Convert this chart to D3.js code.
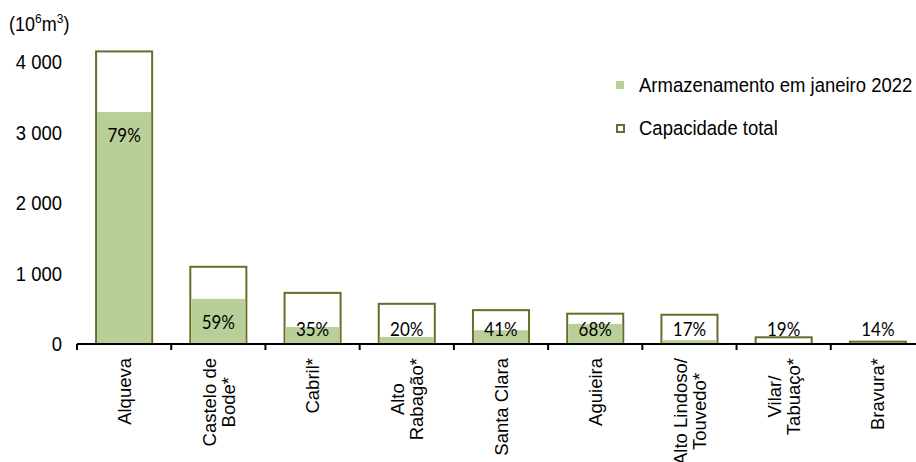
<!DOCTYPE html>
<html>
<head>
<meta charset="utf-8">
<script src="https://cdn.jsdelivr.net/npm/d3@7/dist/d3.min.js"></script>
<style>
  html, body { margin: 0; padding: 0; background: #fff; }
  svg { display: block; }
  text { font-family: "Liberation Sans", Arial, sans-serif; fill: #000; }
</style>
</head>
<body>
<svg id="chart" width="916" height="462"></svg>
<script>
const categories = ["Alqueva", "Castelo de\nBode*", "Cabril*", "Alto\nRabagão*", "Santa Clara", "Aguieira", "Alto Lindoso/\nTouvedo*", "Vilar/\nTabuaço*", "Bravura*"];
const capacity = [4150, 1095, 725, 570, 480, 430, 415, 95, 33];
const storage = [3290, 640, 240, 100, 195, 285, 55, 18, 5];
const pctLabels = ["79%", "59%", "35%", "20%", "41%", "68%", "17%", "19%", "14%"];
const yTicks = [0, 1000, 2000, 3000, 4000];
const legendLabels = ["Armazenamento em janeiro 2022", "Capacidade total"];

const W = 916, H = 462;
const SY = 1.12; // vertical stretch of the horizontal lettering
const svg = d3.select("#chart");
const stroke = "#6b6b2c", fillG = "#b9cf98";

const x = d3.scaleBand().domain(categories).range([77, 925]).paddingInner(0.405).paddingOuter(0.2025);
const y = d3.scaleLinear().domain([0, 4000]).range([344, 62]);

const loc = d3.formatLocale({decimal: ",", thousands: " ", grouping: [3], currency: ["", ""]});
const fmt = loc.format(",");

function stretchedText(parent, px, py) {
  return parent.append("g").attr("transform", `translate(${px},${py}) scale(1,${SY})`).append("text");
}

// y axis labels
const gy = svg.append("g");
yTicks.forEach(v => {
  stretchedText(gy, 62, y(v)).attr("text-anchor", "end").attr("dominant-baseline", "central")
    .style("font-size", "18.5px").text(fmt(v));
});

// axis title
const t = stretchedText(svg, 9, 31).style("font-size", "18px");
t.append("tspan").text("(10");
t.append("tspan").attr("dy", -7).style("font-size", "12px").text("6");
t.append("tspan").attr("dy", 7).text("m");
t.append("tspan").attr("dy", -7).style("font-size", "12px").text("3");
t.append("tspan").attr("dy", 7).text(")");

// bars: capacity outline
svg.append("g").selectAll("rect").data(categories).join("rect")
  .attr("x", d => x(d))
  .attr("width", x.bandwidth())
  .attr("y", (d, i) => y(capacity[i]))
  .attr("height", (d, i) => y(0) - y(capacity[i]))
  .attr("fill", "#fff").attr("stroke", stroke).attr("stroke-width", 2);

// storage fill
svg.append("g").selectAll("rect").data(categories).join("rect")
  .attr("x", d => x(d) + 1)
  .attr("width", x.bandwidth() - 2)
  .attr("y", (d, i) => y(storage[i]))
  .attr("height", (d, i) => y(0) - y(storage[i]))
  .attr("fill", fillG);

// percentage labels
const gp = svg.append("g");
categories.forEach((c, i) => {
  stretchedText(gp, x(c) + x.bandwidth() / 2, Math.min(y(storage[i]) + 23, y(0) - 15))
    .attr("text-anchor", "middle").attr("dominant-baseline", "central")
    .style("font-family", "Lato, 'Open Sans', sans-serif").style("font-size", "17px")
    .text(pctLabels[i]);
});

// x axis line
const y0 = y(0);
svg.append("line").attr("x1", 77).attr("x2", W).attr("y1", y0).attr("y2", y0)
  .attr("stroke", "#000").attr("stroke-width", 2);
const bounds = d3.range(categories.length + 1).map(i => 77 + i * x.step());
svg.append("g").selectAll("line").data(bounds.filter(b => b <= W)).join("line")
  .attr("x1", d => d).attr("x2", d => d).attr("y1", y0).attr("y2", y0 + 6)
  .attr("stroke", "#000").attr("stroke-width", 2);

// category labels (rotated)
const lineH = 19;
categories.forEach(c => {
  const lines = c.split("\n");
  const cx = x(c) + x.bandwidth() / 2;
  const g = svg.append("g").attr("transform", `translate(${cx},${y0 + 14}) rotate(-90)`);
  const n = lines.length;
  const txt = g.append("text").style("font-size", "18.5px").attr("dominant-baseline", "central");
  if (n === 1) {
    txt.attr("text-anchor", "end").attr("x", 0).attr("y", 0).text(lines[0]);
  } else {
    const tmp = g.append("text").style("font-size", "18.5px");
    let maxW = 0;
    lines.forEach(l => { tmp.text(l); maxW = Math.max(maxW, tmp.node().getComputedTextLength()); });
    tmp.remove();
    txt.attr("text-anchor", "middle");
    lines.forEach((l, j) => {
      txt.append("tspan").attr("x", -maxW / 2).attr("y", (j - (n - 1) / 2) * lineH).text(l);
    });
  }
});

// legend
const lg = svg.append("g");
legendLabels.forEach((l, i) => {
  const ly = 85 + i * 43;
  if (i === 0) {
    lg.append("rect").attr("x", 616).attr("y", ly - 4).attr("width", 8).attr("height", 8).attr("fill", fillG);
  } else {
    lg.append("rect").attr("x", 617).attr("y", ly - 3).attr("width", 7).attr("height", 7).attr("fill", "#fff").attr("stroke", stroke).attr("stroke-width", 2);
  }
  stretchedText(lg, 639, ly).attr("dominant-baseline", "central").style("font-size", "18.5px").text(l);
});
</script>
</body>
</html>
